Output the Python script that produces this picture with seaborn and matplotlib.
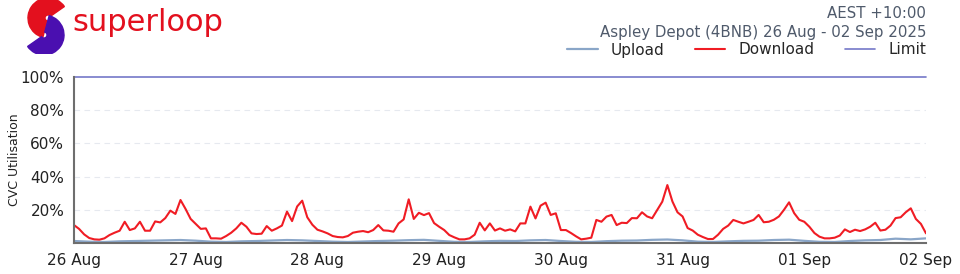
import matplotlib
matplotlib.use("Agg")
import matplotlib.pyplot as plt
import matplotlib.dates as mdates
from matplotlib.patches import Wedge
import pandas as pd
import seaborn as sns

# download utilisation (%), hourly, one list per day
download_26aug = [10.8, 8.5, 5.2, 3.0, 2.2, 2.0, 2.8, 4.8, 6.2, 7.4, 12.8, 7.8,
                  8.8, 12.8, 7.4, 7.4, 13.0, 12.4, 15.0, 19.5, 17.5, 25.9, 20.5, 14.5]
download_27aug = [11.5, 8.5, 8.8, 2.8, 2.8, 2.6, 4.2, 6.2, 8.8, 12.2, 9.8, 5.8,
                  5.4, 5.6, 10.2, 7.4, 8.8, 10.5, 18.9, 13.2, 22.0, 25.5, 15.5, 11.0]
download_28aug = [8.0, 7.0, 5.8, 4.2, 3.6, 3.4, 4.2, 6.2, 6.8, 7.2, 6.5, 7.8,
                  10.8, 7.6, 7.4, 6.8, 11.8, 14.2, 26.3, 14.5, 18.2, 16.8, 18.0, 12.0]
download_29aug = [9.8, 7.8, 4.8, 3.4, 2.2, 2.2, 2.8, 5.0, 12.2, 7.6, 11.8, 7.5,
                  8.8, 7.4, 8.2, 7.0, 11.8, 11.8, 21.9, 14.8, 22.5, 24.3, 16.9, 17.9]
download_30aug = [7.8, 7.8, 6.0, 4.0, 2.2, 2.6, 3.2, 13.9, 12.8, 15.9, 16.9, 10.8,
                  12.2, 12.0, 15.0, 14.9, 18.5, 16.0, 14.9, 19.9, 24.9, 34.9, 25.0, 18.5]
download_31aug = [16.0, 9.0, 7.5, 5.0, 3.6, 2.4, 2.4, 5.0, 8.5, 10.5, 13.9, 12.8,
                  11.8, 12.8, 13.9, 16.9, 12.5, 12.8, 14.0, 16.0, 20.0, 24.5, 18.0, 14.0]
download_01sep = [12.8, 9.8, 6.0, 3.8, 2.8, 2.8, 3.2, 4.5, 8.2, 6.6, 8.0, 7.2,
                  8.2, 9.8, 12.2, 7.5, 8.0, 10.5, 15.0, 15.5, 18.5, 20.9, 14.5, 11.5]
download_end = [5.8]

# upload utilisation (%), every 3 hours
upload_values = [1.2, 0.8, 0.6, 1.0, 1.2, 1.4, 1.6, 1.8,
                 1.4, 0.8, 0.6, 1.0, 1.2, 1.5, 1.8, 1.6,
                 1.2, 0.8, 0.6, 0.9, 1.2, 1.4, 1.7, 1.9,
                 1.3, 0.7, 0.6, 1.0, 1.3, 1.2, 1.6, 1.8,
                 1.2, 0.7, 0.6, 1.1, 1.4, 1.5, 1.9, 2.1,
                 1.6, 0.8, 0.6, 1.0, 1.3, 1.4, 1.8, 2.0,
                 1.3, 0.7, 0.6, 1.2, 1.6, 1.8, 2.6, 2.2,
                 2.8]

limit_values = [100, 100]

start_time = "2025-08-26 00:00"
end_time = "2025-09-02 00:00"
y_ticks = [20, 40, 60, 80, 100]

download_values = (download_26aug + download_27aug + download_28aug + download_29aug
                   + download_30aug + download_31aug + download_01sep + download_end)
download_df = pd.DataFrame({"time": pd.date_range(start_time, periods=len(download_values), freq="h"),
                            "value": download_values})
upload_df = pd.DataFrame({"time": pd.date_range(start_time, periods=len(upload_values), freq="3h"),
                          "value": upload_values})
limit_df = pd.DataFrame({"time": pd.to_datetime([start_time, end_time]), "value": limit_values})

# theme
sns.set_theme(style="white")
plt.rcParams["font.family"] = ["DejaVu Sans"]

fig = plt.figure(figsize=(9.6, 2.74), dpi=100)
ax = fig.add_axes([74 / 960, 31 / 274, 852 / 960, 166 / 274])

sns.lineplot(data=upload_df, x="time", y="value", ax=ax, color="#8aa6c8", linewidth=1.6, label="Upload")
sns.lineplot(data=download_df, x="time", y="value", ax=ax, color="#f01c24", linewidth=1.5, label="Download")
sns.lineplot(data=limit_df, x="time", y="value", ax=ax, color="#7478c8", linewidth=1.2, label="Limit",
             clip_on=False)

# axes
ax.set_xlim(pd.Timestamp(start_time), pd.Timestamp(end_time))
ax.set_ylim(0, 100)
ax.set_yticks(y_ticks)
ax.set_yticklabels([f"{t}%" for t in y_ticks])
ax.xaxis.set_major_locator(mdates.DayLocator())
ax.xaxis.set_major_formatter(mdates.DateFormatter("%d %b"))
ax.tick_params(axis="x", length=5, width=1, color="#777777", labelsize=11, labelcolor="#222222", pad=2)
ax.tick_params(axis="y", length=0, labelsize=11, labelcolor="#222222", pad=7)
ax.set_xlabel("")
ax.set_ylabel("CVC Utilisation", fontsize=9, color="#222222")
ax.yaxis.set_label_coords(-53 / 852, 0.5)

for t in [20, 40, 60, 80]:
    ax.axhline(t, color="#e6e9ef", linewidth=0.8, linestyle=(0, (5, 4)), zorder=0)

sns.despine(ax=ax)
for side in ["left", "bottom"]:
    ax.spines[side].set_color("#6e6e6e")
    ax.spines[side].set_linewidth(1.5)

# legend in header
handles, labels = ax.get_legend_handles_labels()
ax.get_legend().remove()
fig.legend(handles, labels, loc="center right", bbox_to_anchor=(937 / 960, 1 - 50 / 274), ncol=3,
           frameon=False, fontsize=11, handlelength=2.0, columnspacing=2.0, handletextpad=0.85,
           borderpad=0.2)

# header text
fig.text(926 / 960, 1 - 14 / 274, "AEST +10:00", ha="right", va="center", fontsize=10.8, color="#4f5a6b")
fig.text(926 / 960, 1 - 32 / 274, "Aspley Depot (4BNB) 26 Aug - 02 Sep 2025", ha="right", va="center",
         fontsize=10.8, color="#4f5a6b")

# logo
logo = fig.add_axes([20 / 960, 1 - 54 / 274, 52 / 960, 54 / 274])
logo.set_xlim(0, 52)
logo.set_ylim(0, 54)
logo.axis("off")
logo.add_patch(Wedge((28, 36), 20, 35, 255, width=17, color="#e3101e"))
logo.add_patch(Wedge((24, 19), 20, 215, 435, width=17, color="#4a0fb0"))
fig.text(72 / 960, 1 - 31 / 274, "superloop", ha="left", va="baseline", fontsize=22, color="#e3101e")

plt.savefig("out.png", dpi=100)
